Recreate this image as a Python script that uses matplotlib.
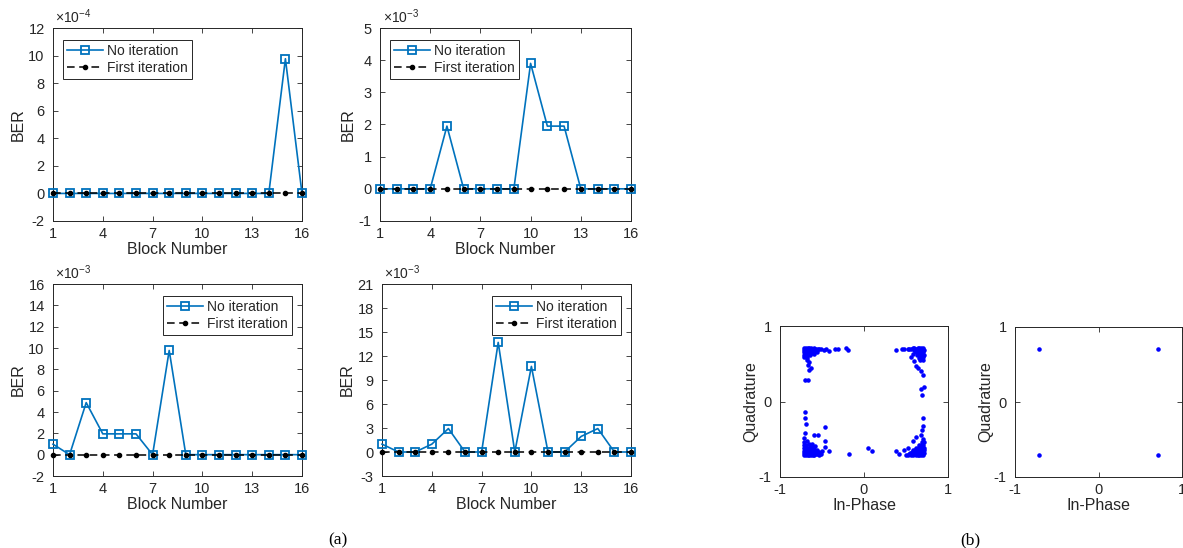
import numpy as np
import matplotlib.pyplot as plt
from matplotlib.ticker import MultipleLocator, FuncFormatter

plt.rcParams['font.family'] = ['Liberation Sans', 'DejaVu Sans']
plt.rcParams['axes.unicode_minus'] = False
plt.rcParams['mathtext.fontset'] = 'custom'
plt.rcParams['mathtext.rm'] = 'Liberation Sans'
plt.rcParams['mathtext.it'] = 'Liberation Sans'

# BER per block, top-left / top-right / bottom-left / bottom-right
blocks = np.arange(1, 17)
ber_no_1 = [0, 0, 0, 0, 0, 0, 0, 0, 0, 0, 0, 0, 0, 0, 9.77e-4, 0]
ber_no_2 = [0, 0, 0, 0, 1.95e-3, 0, 0, 0, 0, 3.9e-3, 1.95e-3, 1.95e-3, 0, 0, 0, 0]
ber_no_3 = [0.98e-3, 0, 4.88e-3, 1.95e-3, 1.95e-3, 1.95e-3, 0, 9.77e-3, 0, 0, 0, 0, 0, 0, 0, 0]
ber_no_4 = [0.98e-3, 0, 0, 0.98e-3, 2.93e-3, 0, 0, 13.7e-3, 0, 10.7e-3, 0, 0, 1.95e-3, 2.93e-3, 0, 0]
ber_first = [0] * 16

# received constellation, no iteration (rough read-off, per corner)
tl = [(-0.71, 0.71), (-0.69, 0.71), (-0.67, 0.71), (-0.65, 0.71), (-0.63, 0.71), (-0.61, 0.70),
      (-0.59, 0.71), (-0.57, 0.70), (-0.55, 0.70), (-0.53, 0.69), (-0.51, 0.70),
      (-0.71, 0.68), (-0.69, 0.68), (-0.67, 0.69), (-0.65, 0.68), (-0.63, 0.68), (-0.61, 0.67),
      (-0.58, 0.67), (-0.56, 0.66), (-0.71, 0.65), (-0.69, 0.65), (-0.67, 0.64), (-0.65, 0.65),
      (-0.62, 0.64), (-0.60, 0.63), (-0.71, 0.62), (-0.69, 0.61), (-0.67, 0.62), (-0.64, 0.61),
      (-0.71, 0.59), (-0.68, 0.58),
      (-0.48, 0.68), (-0.45, 0.69), (-0.42, 0.67), (-0.34, 0.70), (-0.31, 0.70), (-0.22, 0.71),
      (-0.19, 0.68), (-0.68, 0.55), (-0.66, 0.52), (-0.67, 0.48), (-0.63, 0.45), (-0.65, 0.42),
      (-0.70, 0.29), (-0.67, 0.28)]
tr = [(0.56, 0.70), (0.58, 0.71), (0.60, 0.71), (0.62, 0.70), (0.64, 0.71), (0.66, 0.71),
      (0.68, 0.71), (0.70, 0.71), (0.59, 0.68), (0.61, 0.67), (0.63, 0.68), (0.65, 0.68),
      (0.67, 0.68), (0.69, 0.68), (0.71, 0.68), (0.62, 0.65), (0.64, 0.64), (0.66, 0.65),
      (0.68, 0.65), (0.70, 0.65), (0.63, 0.61), (0.65, 0.62), (0.67, 0.62), (0.69, 0.61),
      (0.71, 0.62), (0.66, 0.58), (0.68, 0.58), (0.70, 0.59), (0.67, 0.55), (0.70, 0.55),
      (0.38, 0.68), (0.45, 0.70), (0.48, 0.70), (0.52, 0.69), (0.54, 0.70), (0.58, 0.63),
      (0.56, 0.59), (0.60, 0.53), (0.62, 0.47), (0.64, 0.44), (0.68, 0.41), (0.70, 0.35),
      (0.68, 0.17), (0.71, 0.19), (0.69, 0.09)]
bl = [(-0.71, -0.71), (-0.69, -0.71), (-0.67, -0.71), (-0.65, -0.71), (-0.63, -0.71),
      (-0.61, -0.71), (-0.59, -0.71), (-0.57, -0.70), (-0.55, -0.70), (-0.53, -0.71),
      (-0.51, -0.70), (-0.71, -0.68), (-0.69, -0.68), (-0.67, -0.68), (-0.65, -0.67),
      (-0.63, -0.68), (-0.61, -0.68), (-0.59, -0.67), (-0.56, -0.67), (-0.53, -0.67),
      (-0.71, -0.65), (-0.69, -0.64), (-0.67, -0.65), (-0.65, -0.64), (-0.62, -0.64),
      (-0.59, -0.63), (-0.56, -0.64), (-0.71, -0.61), (-0.69, -0.61), (-0.67, -0.61),
      (-0.64, -0.60), (-0.61, -0.60), (-0.58, -0.59), (-0.71, -0.57), (-0.69, -0.57),
      (-0.66, -0.56), (-0.62, -0.56), (-0.71, -0.53), (-0.68, -0.52), (-0.71, -0.49),
      (-0.70, -0.14), (-0.70, -0.22), (-0.69, -0.30), (-0.70, -0.42), (-0.46, -0.34),
      (-0.60, -0.44), (-0.55, -0.45), (-0.47, -0.52), (-0.46, -0.60), (-0.42, -0.65),
      (-0.50, -0.66), (-0.18, -0.70)]
br = [(0.50, -0.71), (0.52, -0.71), (0.54, -0.70), (0.56, -0.71), (0.58, -0.71), (0.60, -0.70),
      (0.62, -0.71), (0.64, -0.71), (0.66, -0.71), (0.68, -0.71), (0.70, -0.71),
      (0.55, -0.68), (0.57, -0.67), (0.59, -0.68), (0.61, -0.67), (0.63, -0.68), (0.65, -0.68),
      (0.67, -0.67), (0.69, -0.68), (0.71, -0.68), (0.58, -0.64), (0.61, -0.64), (0.63, -0.65),
      (0.65, -0.64), (0.67, -0.64), (0.69, -0.65), (0.71, -0.64), (0.62, -0.61), (0.65, -0.60),
      (0.67, -0.61), (0.69, -0.61), (0.71, -0.61), (0.66, -0.57), (0.68, -0.57), (0.70, -0.57),
      (0.69, -0.54), (0.71, -0.53), (0.70, -0.50),
      (0.70, -0.22), (0.70, -0.33), (0.69, -0.38), (0.68, -0.45), (0.62, -0.47), (0.58, -0.52),
      (0.52, -0.61), (0.48, -0.64), (0.38, -0.65), (0.42, -0.69), (0.05, -0.62), (0.10, -0.66)]

# after first iteration
qpsk_i = [-0.707, 0.707, -0.707, 0.707]
qpsk_q = [0.707, 0.707, -0.707, -0.707]

W, H = 1183, 548
TXT = '#262626'
BLUE = '#0072BD'


def box(x0, y0, x1, y1):
    return [x0 / W, 1 - y1 / H, (x1 - x0) / W, (y1 - y0) / H]


def style(ax):
    ax.tick_params(direction='in', top=True, right=True, length=3.5, width=0.6,
                   colors=TXT, labelsize=10.5)
    ax.tick_params(axis='y', pad=6)
    ax.tick_params(axis='x', pad=4)
    for s in ax.spines.values():
        s.set_color(TXT)
        s.set_linewidth(0.7)


fig = plt.figure(figsize=(W / 100, H / 100), dpi=100)

ber_panels = [
    (box(53, 28, 302, 221), ber_no_1, (-2e-4, 12e-4), 2e-4, -4, 'upper left', (0.04, 0.94)),
    (box(380, 28, 631, 221), ber_no_2, (-1e-3, 5e-3), 1e-3, -3, 'upper left', (0.04, 0.94)),
    (box(53, 284, 302, 476), ber_no_3, (-2e-3, 16e-3), 2e-3, -3, 'upper right', (0.96, 0.94)),
    (box(382, 284, 631, 476), ber_no_4, (-3e-3, 21e-3), 3e-3, -3, 'upper right', (0.96, 0.94)),
]

for rect, ber_no, ylim, ystep, oom, loc, anchor in ber_panels:
    ax = fig.add_axes(rect)
    ax.plot(blocks, ber_no, '-s', color=BLUE, lw=1.2, ms=6, mfc='none', mew=1.3,
            label='No iteration', clip_on=False, zorder=3)
    ax.plot(blocks, ber_first, '.', ls=(0, (5, 3)), color='black', lw=1.1, ms=6,
            label='First iteration', clip_on=False, zorder=4)
    ax.set_xlim(1, 16)
    ax.set_ylim(*ylim)
    ax.set_xticks([1, 4, 7, 10, 13, 16])
    ax.yaxis.set_major_locator(MultipleLocator(ystep))
    scale = 10.0 ** oom
    ax.yaxis.set_major_formatter(FuncFormatter(lambda v, p, s=scale: '%g' % round(v / s, 6)))
    ax.text(0.01, 1.012, r'$\times10^{%d}$' % oom, transform=ax.transAxes,
            fontsize=10, color=TXT, ha='left', va='bottom')
    ax.set_xlabel('Block Number', fontsize=11.5, color=TXT, labelpad=1)
    ax.set_ylabel('BER', fontsize=11.5, color=TXT, labelpad=2)
    style(ax)
    leg = ax.legend(loc=loc, bbox_to_anchor=anchor, fontsize=10, fancybox=False,
                    edgecolor=TXT, framealpha=1, borderpad=0.3, labelspacing=0.25,
                    handlelength=2.6, handletextpad=0.3, borderaxespad=0)
    leg.get_frame().set_linewidth(0.7)
    leg.set_zorder(5)
    for t in leg.get_texts():
        t.set_color(TXT)

sc_panels = [
    (box(780, 326, 948, 477), [p[0] for p in tl + tr + bl + br], [p[1] for p in tl + tr + bl + br]),
    (box(1015, 327, 1182, 477), qpsk_i, qpsk_q),
]
for rect, xi, yq in sc_panels:
    ax = fig.add_axes(rect)
    ax.plot(xi, yq, '.', color='blue', ms=4.5, ls='none')
    ax.set_xlim(-1, 1)
    ax.set_ylim(-1, 1)
    ax.set_xticks([-1, 0, 1])
    ax.set_yticks([-1, 0, 1])
    ax.set_xlabel('In-Phase', fontsize=11.5, color=TXT, labelpad=1)
    ax.set_ylabel('Quadrature', fontsize=11.5, color=TXT, labelpad=0)
    style(ax)

fig.text(338 / W, 1 - 540 / H, '(a)', family=['Liberation Serif', 'DejaVu Serif'],
         fontsize=12.5, ha='center', va='center')
fig.text(970 / W, 1 - 540 / H, '(b)', family=['Liberation Serif', 'DejaVu Serif'],
         fontsize=12.5, ha='center', va='center')

fig.savefig('out.png', dpi=100)
